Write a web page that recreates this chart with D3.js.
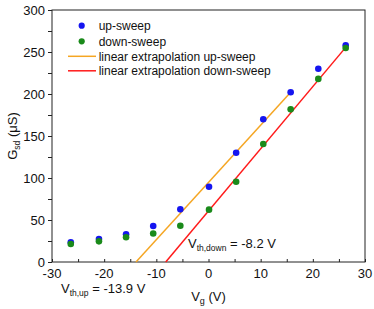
<!DOCTYPE html>
<html><head><meta charset="utf-8">
<script src="https://cdn.jsdelivr.net/npm/d3@7"></script>
<style>body{margin:0;background:#fff}svg text{font-family:"Liberation Sans",Arial,sans-serif;fill:#111}</style>
</head><body><svg id="c" width="374" height="309"></svg>
<script>
const vg = [-26.4, -21, -15.8, -10.6, -5.4, 0.1, 5.3, 10.5, 15.75, 21.05, 26.3];
const upSweep = [23.4, 27.4, 33, 42.9, 62.7, 89.6, 130, 170, 202, 230, 258];
const downSweep = [21.4, 24.6, 29.4, 34, 43.2, 62.3, 95.6, 140.5, 181.7, 218, 254.7];
const fitUp = [[-13.9, 0], [15.75, 202]];
const fitDown = [[-8.2, 0], [26.3, 255.5]];
const xTicks = [-30, -20, -10, 0, 10, 20, 30];
const yTicks = [0, 50, 100, 150, 200, 250, 300];
const legendLabels = ["up-sweep", "down-sweep", "linear extrapolation up-sweep", "linear extrapolation down-sweep"];
const annotations = ["th,up", "-13.9", "th,down", "-8.2"];

const svg = d3.select("#c");
const L = 52, R = 365, T = 10, B = 262;
const x = d3.scaleLinear().domain([-30, 30]).range([L, R]);
const y = d3.scaleLinear().domain([0, 300]).range([B, T]);
const axisColor = "#222";

// frame
svg.append("rect").attr("x", L).attr("y", T).attr("width", R - L).attr("height", B - T)
  .attr("fill", "none").attr("stroke", axisColor).attr("stroke-width", 1);

// x axis: ticks inward
const gx = svg.append("g").attr("transform", `translate(0,${B})`)
  .call(d3.axisTop(x).tickValues(d3.range(-30, 31, 5)).tickSize(3).tickFormat(""));
gx.select(".domain").remove();
gx.selectAll("line").attr("stroke", axisColor);
svg.append("g").selectAll("text").data(xTicks).join("text")
  .attr("x", d => x(d)).attr("y", 278).attr("text-anchor", "middle")
  .attr("font-size", 13).text(d => d);

// y axis: ticks outward
const gy = svg.append("g").attr("transform", `translate(${L},0)`)
  .call(d3.axisLeft(y).tickValues(d3.range(0, 301, 25)).tickSize(4).tickFormat(""));
gy.select(".domain").remove();
gy.selectAll("line").attr("stroke", axisColor);
svg.append("g").selectAll("text").data(yTicks).join("text")
  .attr("x", 45).attr("y", d => y(d) + 4.6).attr("text-anchor", "end")
  .attr("font-size", 13).text(d => d);

// axis labels
const yl = svg.append("text").attr("transform", `translate(17,${(T + B) / 2}) rotate(-90)`)
  .attr("text-anchor", "middle").attr("font-size", 13);
yl.append("tspan").text("G");
yl.append("tspan").attr("font-size", 8.5).attr("dy", 3).text("sd");
yl.append("tspan").attr("dy", -3).text(" (μS)");

const xl = svg.append("text").attr("x", (L + R) / 2).attr("y", 301).attr("text-anchor", "middle").attr("font-size", 13);
xl.append("tspan").text("V");
xl.append("tspan").attr("font-size", 9).attr("dy", 3).text("g");
xl.append("tspan").attr("dy", -3).text(" (V)");

// fit lines
const line = d3.line().x(d => x(d[0])).y(d => y(d[1]));
svg.append("path").attr("d", line(fitUp)).attr("stroke", "#f5a623").attr("stroke-width", 1.5).attr("fill", "none");
svg.append("path").attr("d", line(fitDown)).attr("stroke", "#ff1a1a").attr("stroke-width", 1.5).attr("fill", "none");

// points
const blue = "#1515f0", green = "#1a8a1a";
svg.append("g").selectAll("circle").data(vg).join("circle")
  .attr("cx", d => x(d)).attr("cy", (d, i) => y(upSweep[i])).attr("r", 3.3).attr("fill", blue);
svg.append("g").selectAll("circle").data(vg).join("circle")
  .attr("cx", d => x(d)).attr("cy", (d, i) => y(downSweep[i])).attr("r", 3.3).attr("fill", green);

// legend
const lg = svg.append("g");
const rows = [25.7, 41.3, 56.3, 70.8];
lg.append("circle").attr("cx", 81.7).attr("cy", rows[0]).attr("r", 3.1).attr("fill", blue);
lg.append("circle").attr("cx", 81.7).attr("cy", rows[1]).attr("r", 3.1).attr("fill", green);
lg.append("line").attr("x1", 68).attr("x2", 96).attr("y1", rows[2]).attr("y2", rows[2]).attr("stroke", "#f5a623").attr("stroke-width", 1.5);
lg.append("line").attr("x1", 68).attr("x2", 96).attr("y1", rows[3]).attr("y2", rows[3]).attr("stroke", "#ff1a1a").attr("stroke-width", 1.5);
lg.selectAll("text").data(legendLabels).join("text")
  .attr("x", 98.7).attr("y", (d, i) => rows[i] + 4.3).attr("font-size", 12).text(d => d);

// annotations
function annot(px, py, sub, val) {
  const t = svg.append("text").attr("x", px).attr("y", py).attr("font-size", 13);
  t.append("tspan").text("V");
  t.append("tspan").attr("font-size", 8.5).attr("dy", 3).text(sub);
  t.append("tspan").attr("dy", -3).text(" = " + val + " V");
}
annot(61, 293, annotations[0], annotations[1]);
annot(188, 248, annotations[2], annotations[3]);
</script></body></html>
